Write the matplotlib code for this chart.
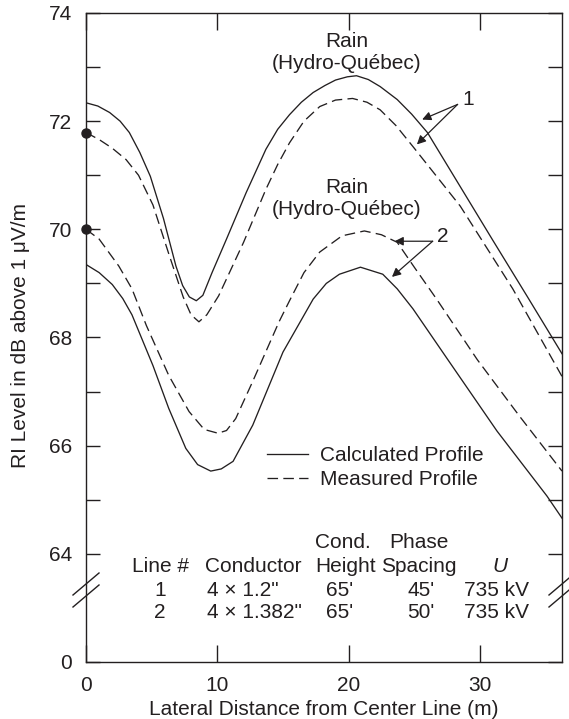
import numpy as np
import matplotlib.pyplot as plt

plt.rcParams['font.family'] = ['Liberation Sans', 'DejaVu Sans']

INK = '#231f20'
W, H = 569, 719

# profiles (x in m, y in dB above 1 uV/m)
calc1_x = [0, 0.9, 1.8, 2.6, 3.3, 4.1, 4.9, 5.9, 6.85, 7.36, 7.87, 8.4, 8.9, 9.6, 10.7, 12.2,
           13.7, 14.6, 15.5, 16.4, 17.3, 18.2, 19.0, 19.9, 20.6, 21.5, 22.4, 23.7, 24.8, 26.0,
           28.5, 31.0, 33.6, 36.25]
calc1_y = [72.34, 72.28, 72.16, 72.0, 71.79, 71.42, 70.98, 70.2, 69.32, 68.96, 68.75, 68.68,
           68.78, 69.2, 69.82, 70.68, 71.48, 71.85, 72.12, 72.35, 72.53, 72.66, 72.76, 72.82,
           72.84, 72.77, 72.64, 72.4, 72.13, 71.79, 70.79, 69.79, 68.76, 67.7]

meas1_x = [0, 1.0, 2.0, 3.05, 4.0, 5.1, 6.3, 7.4, 8.0, 8.6, 9.2, 10.1, 12.0, 13.7, 14.6, 15.5,
           16.6, 17.8, 19.0, 20.3, 21.4, 22.4, 23.6, 24.9, 28.5, 32.5, 36.25]
meas1_y = [71.79, 71.66, 71.5, 71.29, 71.0, 70.45, 69.55, 68.75, 68.42, 68.29, 68.42, 68.77,
           69.76, 70.74, 71.2, 71.6, 72.0, 72.27, 72.39, 72.42, 72.35, 72.21, 71.92, 71.53,
           70.43, 68.9, 67.28]

meas2_x = [0, 1.0, 2.5, 3.5, 4.6, 6.3, 7.85, 9.0, 10.05, 10.7, 11.4, 12.7, 14.7, 15.5, 16.6,
           17.8, 19.5, 21.2, 22.5, 23.7, 25.0, 26.7, 29.8, 33.0, 36.25]
meas2_y = [70.0, 69.82, 69.32, 68.9, 68.22, 67.3, 66.63, 66.3, 66.23, 66.28, 66.5, 67.19,
           68.29, 68.68, 69.2, 69.58, 69.88, 69.97, 69.9, 69.76, 69.3, 68.71, 67.59, 66.55,
           65.53]

calc2_x = [0, 1.0, 2.0, 2.8, 3.5, 5.1, 6.3, 7.6, 8.5, 9.5, 10.3, 11.2, 12.7, 15.0, 17.3, 18.3,
           19.3, 20.9, 22.6, 23.7, 24.9, 27.5, 31.3, 35.1, 36.25]
calc2_y = [69.35, 69.2, 68.98, 68.72, 68.42, 67.48, 66.69, 65.95, 65.65, 65.53, 65.57, 65.71,
           66.38, 67.73, 68.71, 69.0, 69.17, 69.30, 69.17, 68.9, 68.53, 67.61, 66.27, 65.07,
           64.66]

# table under the curves
line_ids = ['1', '2']
conductors = ['4 \u00d7 1.2"', '4 \u00d7 1.382"']
heights = ["65'", "65'"]
spacings = ["45'", "50'"]
voltages = ['735 kV', '735 kV']

y_ticks = [62, 64, 66, 68, 70, 72, 74]
y_ticklabels = ['0', '64', '66', '68', '70', '72', '74']
x_ticks = [0, 10, 20, 30]


def fx(px):
    return px / W


def fy(py):
    return 1 - py / H


fig = plt.figure(figsize=(W / 100, H / 100), dpi=100)
ax = fig.add_axes([fx(86), fy(662), (562 - 86) / W, (662 - 13) / H])

dash = (8, 4)
l_calc, = ax.plot(calc1_x, calc1_y, color=INK, lw=0.95)
ax.plot(calc2_x, calc2_y, color=INK, lw=0.95)
l_meas, = ax.plot(meas1_x, meas1_y, color=INK, lw=0.95, ls='--', dashes=dash)
ax.plot(meas2_x, meas2_y, color=INK, lw=0.95, ls='--', dashes=dash)
ax.plot([meas1_x[0], meas2_x[0]], [meas1_y[0], meas2_y[0]], 'o', color=INK, ms=6.5,
        clip_on=False, zorder=5)

ax.set_xlim(0, 36.25)
ax.set_ylim(62.05, 74)
ax.set_xticks(x_ticks)
ax.set_yticks(y_ticks)
ax.set_yticklabels(y_ticklabels)
ax.set_yticks([65, 67, 69, 71, 73], minor=True)
ax.tick_params(axis='both', which='both', direction='in', top=True, right=True,
               colors=INK, labelsize=15, width=1.0, pad=10)
ax.tick_params(axis='x', length=12)
ax.tick_params(axis='y', which='both', length=10)
for s in ax.spines.values():
    s.set_linewidth(1.0)
    s.set_color(INK)

ax.set_xlabel('Lateral Distance from Center Line (m)', fontsize=15, color=INK, labelpad=4)
fig.text(fx(21), fy(336), 'RI Level in dB above 1 \u03bcV/m', rotation=90, fontsize=15,
         color=INK, ha='center', va='center')

# axis break marks
for xs in (86, 562):
    for yb in (584, 596):
        ax.plot([fx(xs - 13), fx(xs + 13)], [fy(yb + 11), fy(yb - 11)], color=INK, lw=1.0,
                transform=fig.transFigure, clip_on=False)

# rain labels
for yc in (52.5, 198.5):
    fig.text(fx(347), fy(yc), 'Rain\n(Hydro-Qu\u00e9bec)', fontsize=15, color=INK,
             ha='center', va='center', linespacing=1.2)

# line number call-outs
arrow = dict(arrowstyle='-|>', color=INK, lw=0.9, mutation_scale=13, shrinkA=0, shrinkB=0)
ax.annotate('', xy=(25.6, 72.03), xytext=(28.3, 72.31), arrowprops=arrow)
ax.annotate('', xy=(25.2, 71.57), xytext=(28.3, 72.31), arrowprops=arrow)
ax.text(29.1, 72.4, '1', fontsize=15, color=INK, ha='center', va='center')
ax.annotate('', xy=(23.5, 69.78), xytext=(26.4, 69.78), arrowprops=arrow)
ax.annotate('', xy=(23.3, 69.12), xytext=(26.4, 69.78), arrowprops=arrow)
ax.text(27.2, 69.86, '2', fontsize=15, color=INK, ha='center', va='center')

ax.legend([l_calc, l_meas], ['Calculated Profile', 'Measured Profile'], frameon=False,
          fontsize=15, loc='center left', bbox_to_anchor=(fx(267), fy(467.5)),
          bbox_transform=fig.transFigure, borderpad=0, borderaxespad=0,
          handlelength=1.97, handletextpad=0.58, labelspacing=0.25, labelcolor=INK)

# parameters table
kw = dict(fontsize=15, color=INK, va='center')
fig.text(fx(315), fy(542), 'Cond.', ha='left', **kw)
fig.text(fx(419), fy(542), 'Phase', ha='center', **kw)
fig.text(fx(160), fy(567), 'Line #', ha='center', **kw)
fig.text(fx(205), fy(567), 'Conductor', ha='left', **kw)
fig.text(fx(315), fy(567), 'Height', ha='left', **kw)
fig.text(fx(419), fy(567), 'Spacing', ha='center', **kw)
fig.text(fx(500), fy(567), 'U', ha='center', style='italic', **kw)
for i, yr in enumerate((590, 613)):
    fig.text(fx(160), fy(yr), line_ids[i], ha='center', **kw)
    fig.text(fx(207), fy(yr), conductors[i], ha='left', **kw)
    fig.text(fx(340), fy(yr), heights[i], ha='center', **kw)
    fig.text(fx(421), fy(yr), spacings[i], ha='center', **kw)
    fig.text(fx(497), fy(yr), voltages[i], ha='center', **kw)

fig.savefig('out.png', dpi=100)
